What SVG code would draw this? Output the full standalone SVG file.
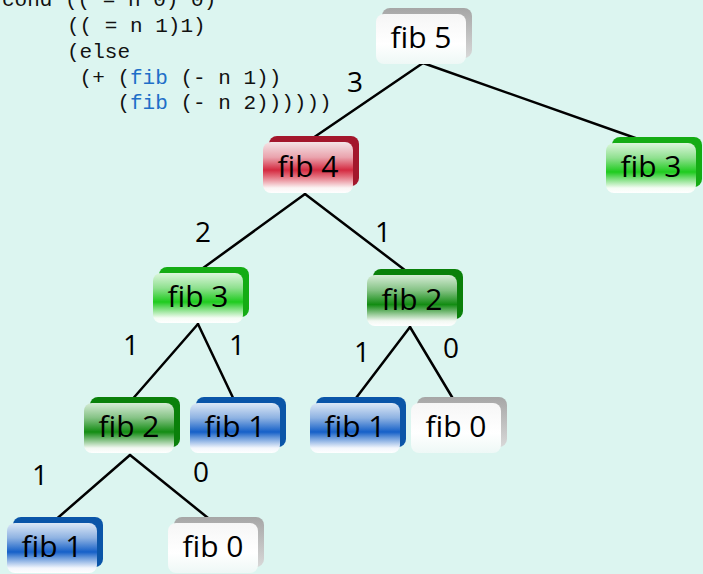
<svg xmlns="http://www.w3.org/2000/svg" width="703" height="574" viewBox="0 0 703 574">
<defs>
<linearGradient id="gRed" x1="0" y1="0" x2="0" y2="1">
<stop offset="0" stop-color="#f4e4e6"/><stop offset="0.3" stop-color="#eaa3ad"/><stop offset="0.55" stop-color="#d42a40"/><stop offset="0.68" stop-color="#e4707e"/><stop offset="0.9" stop-color="#fbf4f4"/><stop offset="1" stop-color="#ffffff"/>
</linearGradient>
<linearGradient id="gGreen" x1="0" y1="0" x2="0" y2="1">
<stop offset="0" stop-color="#dcf6dc"/><stop offset="0.3" stop-color="#8fe08f"/><stop offset="0.58" stop-color="#1ecb1e"/><stop offset="0.7" stop-color="#72dc72"/><stop offset="0.9" stop-color="#f4fcf4"/><stop offset="1" stop-color="#ffffff"/>
</linearGradient>
<linearGradient id="gDkGreen" x1="0" y1="0" x2="0" y2="1">
<stop offset="0" stop-color="#d6ecd6"/><stop offset="0.3" stop-color="#84c284"/><stop offset="0.58" stop-color="#128c12"/><stop offset="0.7" stop-color="#66b266"/><stop offset="0.9" stop-color="#f2f8f2"/><stop offset="1" stop-color="#ffffff"/>
</linearGradient>
<linearGradient id="gBlue" x1="0" y1="0" x2="0" y2="1">
<stop offset="0" stop-color="#dce8f6"/><stop offset="0.3" stop-color="#8eb2e2"/><stop offset="0.58" stop-color="#1560c8"/><stop offset="0.7" stop-color="#6c9cdc"/><stop offset="0.9" stop-color="#f2f6fc"/><stop offset="1" stop-color="#ffffff"/>
</linearGradient>
<linearGradient id="gWhite" x1="0" y1="0" x2="0" y2="1">
<stop offset="0" stop-color="#f6f6f6"/><stop offset="0.6" stop-color="#ffffff"/><stop offset="1" stop-color="#eef8f6"/>
</linearGradient>
<linearGradient id="gGrayBack" x1="0" y1="0" x2="0" y2="1">
<stop offset="0" stop-color="#a6a6a6"/><stop offset="1" stop-color="#d8d8d8"/>
</linearGradient>
</defs>
<style>
.bg{fill:#dcf5f0}
.front{stroke:none}
.t{font-family:"Open Sans","DejaVu Sans",sans-serif;font-size:30px;fill:#000;text-anchor:middle;font-variant-ligatures:common-ligatures}
.lbl{font-family:"Open Sans","DejaVu Sans",sans-serif;font-size:28px;fill:#000;text-anchor:middle}
.code{font-family:"Liberation Mono","Courier New",monospace;font-size:21px;fill:#111}
.kw{fill:#1e6fc8}
.edge{stroke:#000;stroke-width:2.5;fill:none;stroke-linecap:round}
.red .back{fill:#a3172c}.red .front{fill:url(#gRed)}
.green .back{fill:#14ac14}.green .front{fill:url(#gGreen)}
.dkgreen .back{fill:#0a800a}.dkgreen .front{fill:url(#gDkGreen)}
.blue .back{fill:#0a55a8}.blue .front{fill:url(#gBlue)}
.white .back{fill:url(#gGrayBack)}.white .front{fill:url(#gWhite)}
</style>
<rect class="bg" x="0" y="0" width="703" height="574"/>

<g id="code">
<text class="code" x="2" y="6">cond (( = n 0) 0)</text>
<text class="code" x="67" y="32">(( = n 1)1)</text>
<text class="code" x="67" y="58">(else</text>
<text class="code" x="79.6" y="84">(+ (<tspan class="kw">fib</tspan> (- n 1))</text>
<text class="code" x="117.4" y="109">(<tspan class="kw">fib</tspan> (- n 2))))))</text>
</g>

<g id="connectors">
<line class="edge" x1="423" y1="63" x2="310" y2="140"/>
<line class="edge" x1="423" y1="63" x2="641" y2="140"/>
<line class="edge" x1="305" y1="194" x2="199" y2="271"/>
<line class="edge" x1="305" y1="194" x2="410" y2="274"/>
<line class="edge" x1="198" y1="324" x2="130" y2="402"/>
<line class="edge" x1="198" y1="324" x2="235" y2="402"/>
<line class="edge" x1="410" y1="327" x2="353" y2="402"/>
<line class="edge" x1="410" y1="327" x2="455" y2="402"/>
<line class="edge" x1="130" y1="455" x2="53" y2="522"/>
<line class="edge" x1="130" y1="455" x2="213" y2="522"/>
</g>

<g id="labels">
<text class="lbl" x="355" y="92">3</text>
<text class="lbl" x="203" y="242">2</text>
<text class="lbl" x="383" y="242">1</text>
<text class="lbl" x="131" y="355">1</text>
<text class="lbl" x="237" y="355">1</text>
<text class="lbl" x="362" y="362">1</text>
<text class="lbl" x="451" y="358">0</text>
<text class="lbl" x="40" y="485">1</text>
<text class="lbl" x="201" y="482">0</text>
</g>

<g id="fib5" class="white"><rect class="back" x="382" y="8" width="90" height="50" rx="8"/><rect class="front" x="376" y="14" width="90" height="50" rx="8"/><text class="t" x="421" y="48">fib 5</text></g>
<g id="fib4" class="red"><rect class="back" x="269" y="136" width="90" height="50" rx="8"/><rect class="front" x="263" y="142" width="90" height="51" rx="8"/><text class="t" x="308" y="177">fib 4</text></g>
<g id="fib3r" class="green"><rect class="back" x="612" y="137" width="90" height="50" rx="8"/><rect class="front" x="606" y="143" width="90" height="50" rx="8"/><text class="t" x="651" y="177">fib 3</text></g>
<g id="fib3l" class="green"><rect class="back" x="159" y="267" width="90" height="50" rx="8"/><rect class="front" x="153" y="273" width="90" height="50" rx="8"/><text class="t" x="198" y="307">fib 3</text></g>
<g id="fib2r" class="dkgreen"><rect class="back" x="373" y="269" width="90" height="50" rx="8"/><rect class="front" x="367" y="275" width="90" height="51" rx="8"/><text class="t" x="412" y="310">fib 2</text></g>
<g id="fib2l" class="dkgreen"><rect class="back" x="90" y="397" width="90" height="50" rx="8"/><rect class="front" x="84" y="403" width="90" height="50" rx="8"/><text class="t" x="129" y="437">fib 2</text></g>
<g id="fib1a" class="blue"><rect class="back" x="196" y="397" width="90" height="50" rx="8"/><rect class="front" x="190" y="403" width="90" height="50" rx="8"/><text class="t" x="235" y="437">fib 1</text></g>
<g id="fib1b" class="blue"><rect class="back" x="316" y="397" width="90" height="50" rx="8"/><rect class="front" x="310" y="403" width="90" height="50" rx="8"/><text class="t" x="355" y="437">fib 1</text></g>
<g id="fib0a" class="white"><rect class="back" x="417" y="397" width="90" height="50" rx="8"/><rect class="front" x="411" y="403" width="90" height="50" rx="8"/><text class="t" x="456" y="437">fib 0</text></g>
<g id="fib1c" class="blue"><rect class="back" x="13" y="517" width="90" height="50" rx="8"/><rect class="front" x="7" y="523" width="90" height="50" rx="8"/><text class="t" x="52" y="557">fib 1</text></g>
<g id="fib0b" class="white"><rect class="back" x="174" y="517" width="90" height="50" rx="8"/><rect class="front" x="168" y="523" width="90" height="50" rx="8"/><text class="t" x="213" y="557">fib 0</text></g>
</svg>
